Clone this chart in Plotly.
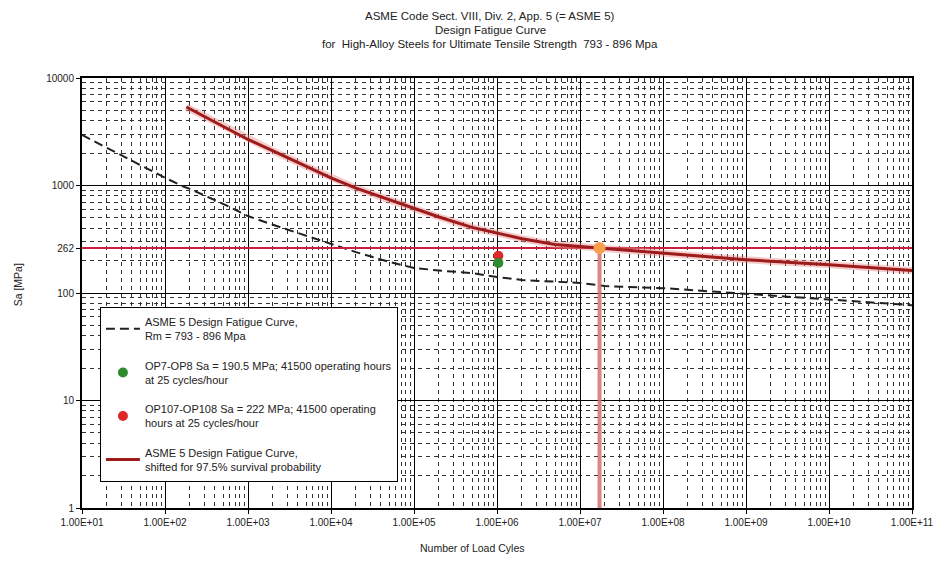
import plotly.graph_objects as go

# ---------------- data ----------------
# ASME 5 design fatigue curve (Rm = 793 - 896 MPa), dashed black
asme_N = [10, 20, 50, 100, 172, 200, 500, 1000, 2000, 5000, 1e4, 2e4, 5e4, 1e5,
          2e5, 5e5, 1e6, 2e6, 1e7, 2e7, 1e8, 1e9, 1e10, 1e11]
asme_S = [2950, 2240, 1550, 1180, 968, 930, 676, 520, 431, 342, 290, 240, 195, 171,
          162, 153, 141, 132, 124, 116, 111, 98, 87, 77]

# ASME 5 design fatigue curve shifted for 97.5 % survival probability (dark red)
shift_N = [181, 200, 500, 1000, 2000, 5000, 1e4, 2e4, 5e4, 1e5, 2e5, 5e5, 1e6,
           2e6, 5e6, 1e7, 1.72e7, 1e8, 1e9, 1e10, 1e11]
shift_S = [5370, 5160, 3560, 2680, 2100, 1510, 1175, 946, 735, 607, 509, 408, 359,
           320, 282, 270, 262, 234, 204, 183, 162]

# operating points
op_N = 1.0375e6            # 41500 h x 25 cycles/h
op78_S = 190.5
op107_S = 222

# allowable stress level and allowable cycle count (intersection)
allow_S = 262
allow_N = 1.72e7
x_range = [10, 1e11]
y_bottom = 1

# tick labels
x_tickvals = [1e1, 1e2, 1e3, 1e4, 1e5, 1e6, 1e7, 1e8, 1e9, 1e10, 1e11]
x_ticktext = ["1.00E+01", "1.00E+02", "1.00E+03", "1.00E+04", "1.00E+05", "1.00E+06",
              "1.00E+07", "1.00E+08", "1.00E+09", "1.00E+10", "1.00E+11"]
y_tickvals = [1, 10, 100, 262, 1000, 10000]
y_ticktext = ["1", "10", "100", "262", "1000", "10000"]

title_lines = ["ASME Code Sect. VIII, Div. 2, App. 5 (= ASME 5)",
               "Design Fatigue Curve",
               "for&nbsp; High-Alloy Steels for Ultimate Tensile Strength&nbsp; 793 - 896 Mpa"]

# ---------------- figure ----------------
FONT = "Liberation Sans, Arial, sans-serif"
TXT = "#222222"
fig = go.Figure()

# dashed ASME curve
fig.add_trace(go.Scatter(
    x=asme_N, y=asme_S, mode="lines", line=dict(color="#202020", width=2, dash="9px,5px"),
    name="ASME 5 Design Fatigue Curve,<br>Rm = 793 - 896 Mpa", legendgroup="a",
    legendrank=1,
))

# operating points
fig.add_trace(go.Scatter(
    x=[op_N], y=[op107_S], mode="markers", marker=dict(color="#E02828", size=10),
    name="OP107-OP108 Sa = 222 MPa; 41500 operating<br>hours at 25 cycles/hour",
    legendgroup="c", legendrank=3,
))
fig.add_trace(go.Scatter(
    x=[op_N], y=[op78_S], mode="markers", marker=dict(color="#2E8B2E", size=10),
    name="OP7-OP8 Sa = 190.5 MPa; 41500 operating hours<br>at 25 cycles/hour",
    legendgroup="b", legendrank=2,
))

# horizontal allowable line
fig.add_trace(go.Scatter(
    x=x_range, y=[allow_S, allow_S], mode="lines", line=dict(color="#C8203C", width=2),
    showlegend=False, hoverinfo="skip",
))
# vertical line at allowable cycles
fig.add_trace(go.Scatter(
    x=[allow_N, allow_N], y=[y_bottom, allow_S], mode="lines",
    line=dict(color="rgba(215,110,110,0.85)", width=4),
    showlegend=False, hoverinfo="skip",
))

# glow under shifted curve
fig.add_trace(go.Scatter(
    x=shift_N, y=shift_S, mode="lines", line=dict(color="rgba(235,140,140,0.45)", width=7),
    showlegend=False, hoverinfo="skip",
))
# shifted curve
fig.add_trace(go.Scatter(
    x=shift_N, y=shift_S, mode="lines", line=dict(color="#9E1B1B", width=3),
    name="ASME 5 Design Fatigue Curve,<br>shifted for 97.5% survival probability",
    legendgroup="d", legendrank=4,
))

# intersection marker
fig.add_trace(go.Scatter(
    x=[allow_N], y=[allow_S], mode="markers", marker=dict(color="#F6A04D", size=12),
    showlegend=False, hoverinfo="skip",
))

x_minor = [k * 10 ** d for d in range(1, 11) for k in range(2, 10)]
y_minor = [k * 10 ** d for d in range(0, 4) for k in range(2, 10)]

common = dict(
    type="log", showgrid=True, gridcolor="#000000", gridwidth=1,
    showline=True, linecolor="#000000", linewidth=2, mirror=True,
    ticks="outside", ticklen=4, tickcolor="#000000",
    tickfont=dict(family=FONT, size=10, color=TXT), zeroline=False,
)
fig.update_xaxes(
    range=[1, 11], tickvals=x_tickvals, ticktext=x_ticktext,
    minor=dict(tickvals=x_minor, showgrid=True, gridcolor="#333333", gridwidth=1,
               griddash="4px,4px", ticks=""),
    **common,
)
fig.update_yaxes(
    range=[0, 4], tickvals=y_tickvals, ticktext=y_ticktext,
    minor=dict(tickvals=y_minor, showgrid=True, gridcolor="#333333", gridwidth=1,
               griddash="4px,4px", ticks=""),
    **common,
)

annotations = []
for txt, yp in zip(title_lines, [1.1442, 1.1116, 1.0791]):
    annotations.append(dict(text=txt, x=0.4916, y=yp, xref="paper", yref="paper",
                            xanchor="center", yanchor="middle", showarrow=False,
                            font=dict(family=FONT, size=11.5, color=TXT)))
annotations.append(dict(text="Number of Load Cyles", x=0.470, y=-0.093, xref="paper",
                        yref="paper", xanchor="center", yanchor="middle", showarrow=False,
                        font=dict(family=FONT, size=10.5, color=TXT)))
annotations.append(dict(text="Sa [MPa]", x=-0.0767, y=0.5186, xref="paper", yref="paper",
                        xanchor="center", yanchor="middle", showarrow=False, textangle=-90,
                        font=dict(family=FONT, size=10.5, color=TXT)))

fig.update_layout(
    width=938, height=553,
    margin=dict(l=74, r=30, t=70, b=53),
    paper_bgcolor="white", plot_bgcolor="white",
    annotations=annotations,
    legend=dict(
        x=0.0216, y=0.4674, xanchor="left", yanchor="top",
        bgcolor="white", bordercolor="#000000", borderwidth=1,
        font=dict(family=FONT, size=11, color=TXT),
        tracegroupgap=12, itemwidth=34,
    ),
    showlegend=True,
)

fig.write_html("out.html")
